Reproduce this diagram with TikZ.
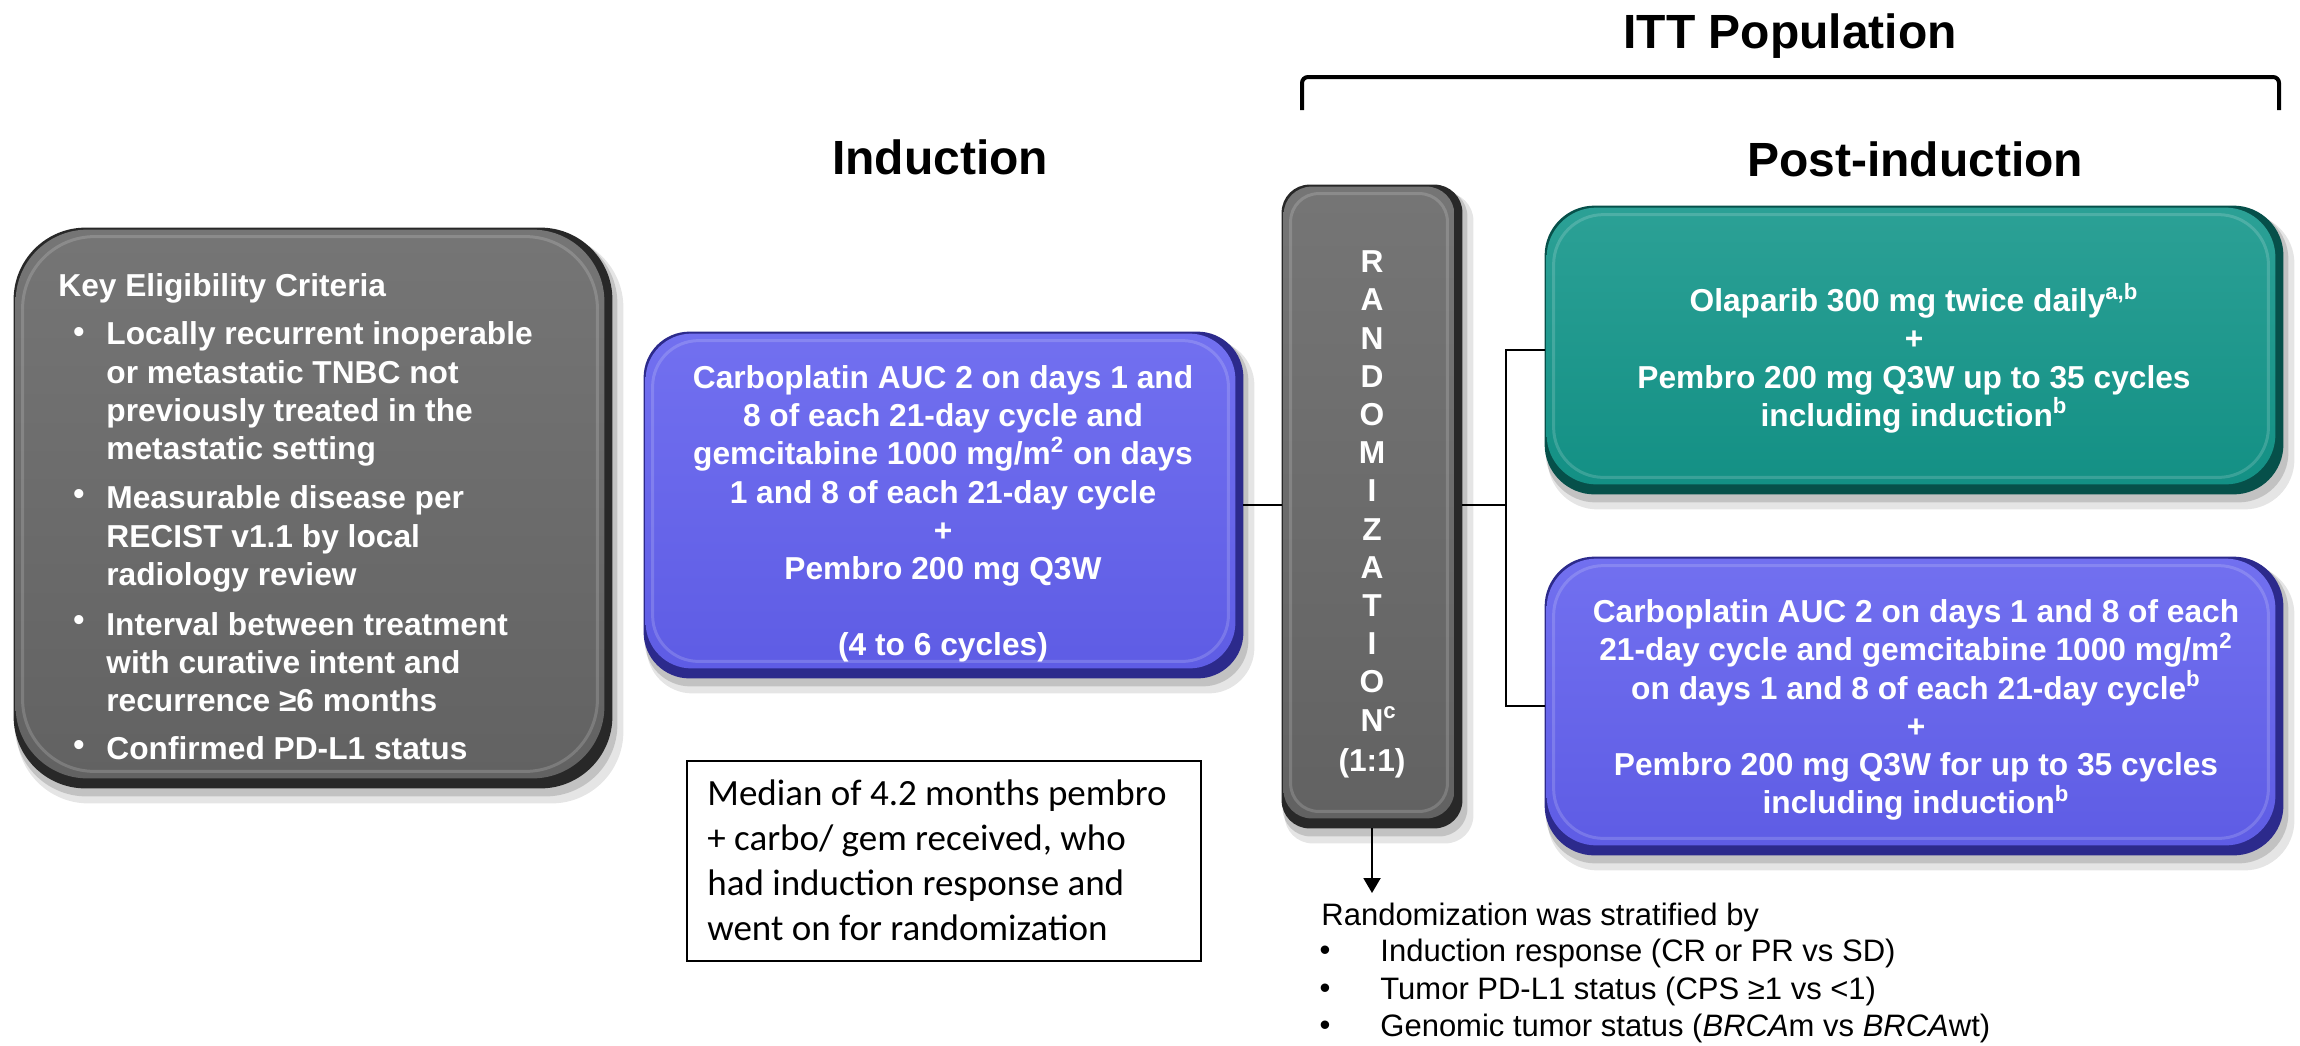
\documentclass[tikz,border=0pt]{standalone}
\usepackage{fontspec}
\setmainfont{Liberation Sans}
\newfontfamily\calibri{Carlito}
\usetikzlibrary{arrows.meta}
\definecolor{gmain}{RGB}{102,102,102}
\definecolor{grim}{RGB}{40,40,40}
\definecolor{pmain}{RGB}{98,96,238}
\definecolor{prim}{RGB}{44,42,140}
\definecolor{tmain}{RGB}{20,150,138}
\definecolor{trim}{RGB}{6,80,74}
\newcommand\boxfont{\fontsize{15.85pt}{19.1pt}\selectfont\bfseries}
\newcommand\bevelbox[4]{%
  \fill[black, opacity=0.10, rounded corners=#4] ([shift={(3,8)}]#1.north west) rectangle ([shift={(11,15)}]#1.south east);
  \fill[black, opacity=0.15, rounded corners=#4] ([shift={(1,4)}]#1.north west) rectangle ([shift={(5,8)}]#1.south east);
  \fill[#3, rounded corners=#4] (#1.north west) rectangle (#1.south east);
  \shade[top color=#2!90!white, bottom color=#2!96!black, rounded corners=#4] ([shift={(2,2)}]#1.north west) rectangle ([shift={(-8,-10)}]#1.south east);
  \draw[white, opacity=0.16, line width=1.5pt, rounded corners=#4] ([shift={(9,9)}]#1.north west) rectangle ([shift={(-15,-17)}]#1.south east);
}
\tikzset{
  boxbase/.style={rectangle, inner sep=0pt, draw=none},
  wtxt/.style={text=white, inner sep=0pt, font=\boxfont},
  hdr/.style={inner sep=0pt, font=\fontsize{24pt}{28pt}\selectfont\bfseries},
  bul/.style={text=white, inner sep=0pt, font=\boxfont},
  conn/.style={draw=black, line width=1pt},
  strat/.style={inner sep=0pt, font=\fontsize{15.5pt}{18.5pt}\selectfont},
  medtxt/.style={inner sep=0pt, align=left, font=\calibri\fontsize{18.5pt}{22.5pt}\selectfont}
}
\begin{document}
\begin{tikzpicture}[x=0.5pt,y=-0.5pt]
\useasboundingbox (0,0) rectangle (2300,1045);
\fill[white] (0,0) rectangle (2300,1045);

% box frames
\node[boxbase, minimum width=299pt, minimum height=280pt] (key) at (313,508) {};
\node[boxbase, minimum width=299.5pt, minimum height=173pt] (ind) at (943.5,505) {};
\node[boxbase, minimum width=90pt, minimum height=321.5pt] (rand) at (1372,506.5) {};
\node[boxbase, minimum width=369pt, minimum height=144pt] (teal) at (1914,350) {};
\node[boxbase, minimum width=369pt, minimum height=149pt] (purp) at (1914,706) {};
\bevelbox{key}{gmain}{grim}{36pt}
\bevelbox{ind}{pmain}{prim}{23pt}
\bevelbox{rand}{gmain}{grim}{14pt}
\bevelbox{teal}{tmain}{trim}{25pt}
\bevelbox{purp}{pmain}{prim}{25pt}

% headers
\node[hdr, anchor=base] (itt) at (1790,48) {ITT Population};
\node[hdr, anchor=base] (indh) at (940,174) {Induction};
\node[hdr, anchor=base] (posth) at (1915,176) {Post-induction};
\coordinate (bl) at (1302,110);
\coordinate (br) at (2279,110);
\draw[line width=2pt, rounded corners=3pt] (bl) -- (1302,77) -- (2279,77) -- (br);

% key eligibility text
\node[wtxt, anchor=base west] (keyt) at (58,296) {Key Eligibility Criteria};
\node[bul] (b1) at (79,335) {•};
\node[bul] (b2) at (79,497) {•};
\node[bul] (b3) at (79,623) {•};
\node[bul] (b4) at (79,748) {•};
\node[wtxt, anchor=west, align=left] (k1) at (106,394) {Locally recurrent inoperable\\or metastatic TNBC not\\previously treated in the\\metastatic setting};
\node[wtxt, anchor=west, align=left] (k2) at (106,539) {Measurable disease per\\RECIST v1.1 by local\\radiology review};
\node[wtxt, anchor=west, align=left] (k3) at (106,662) {Interval between treatment\\with curative intent and\\recurrence ≥6 months};
\node[wtxt, anchor=west, align=left] (k4) at (106,748) {Confirmed PD-L1 status};

% induction text
\node[wtxt, align=center] (indt) at (943,514) {Carboplatin AUC 2 on days 1 and\\8 of each 21-day cycle and\\gemcitabine 1000 mg/m\textsuperscript{2} on days\\1 and 8 of each 21-day cycle\\+\\Pembro 200 mg Q3W\\ ~ \\(4 to 6 cycles)};

% randomization text
\node[wtxt, align=center] (randt) at (1372,491) {R\\A\\N\\D\\O\\M\\I\\Z\\A\\T\\I\\O\\N\rlap{\textsuperscript{c}}};
\node[wtxt] (ratio) at (1372,763) {(1:1)};

% post-induction texts
\node[wtxt, align=center] (tealt) at (1914,358) {Olaparib 300 mg twice daily\textsuperscript{a,b}\\+\\Pembro 200 mg Q3W up to 35 cycles\\including induction\textsuperscript{b}};
\node[wtxt, align=center] (purpt) at (1916,710) {Carboplatin AUC 2 on days 1 and 8 of each\\21-day cycle and gemcitabine 1000 mg/m\textsuperscript{2}\\on days 1 and 8 of each 21-day cycle\textsuperscript{b}\\+\\Pembro 200 mg Q3W for up to 35 cycles\\including induction\textsuperscript{b}};

% connectors
\draw[conn] (ind.east) -- (ind.east -| rand.west);
\coordinate (bx) at (1506,505);
\draw[conn] (rand.east |- bx) -- (bx);
\draw[conn] (teal.west) -| (bx) |- (purp.west);
\coordinate (tip) at (1372,893);
\draw[conn, -{Triangle[width=8.5pt,length=7.5pt]}] (rand.south) -- (tip);

% median box
\node[draw=black, line width=1.1pt, minimum width=257pt, minimum height=100pt, inner sep=0pt] (med) at (944,861) {};
\node[medtxt, anchor=west] (medt) at (707,860) {Median of 4.2 months pembro\\+ carbo/ gem received, who\\had induction response and\\went on for randomization};

% stratification
\node[strat, anchor=west] (s0) at (1321,917) {Randomization was stratified by};
\node[strat] (sb1) at (1325,953) {•};
\node[strat] (sb2) at (1325,991) {•};
\node[strat] (sb3) at (1325,1028) {•};
\node[strat, anchor=west] (s1) at (1380,953) {Induction response (CR or PR vs SD)};
\node[strat, anchor=west] (s2) at (1380,991) {Tumor PD-L1 status (CPS ≥1 vs <1)};
\node[strat, anchor=west] (s3) at (1380,1028) {Genomic tumor status (\textit{BRCA}m vs \textit{BRCA}wt)};
\end{tikzpicture}
\end{document}
